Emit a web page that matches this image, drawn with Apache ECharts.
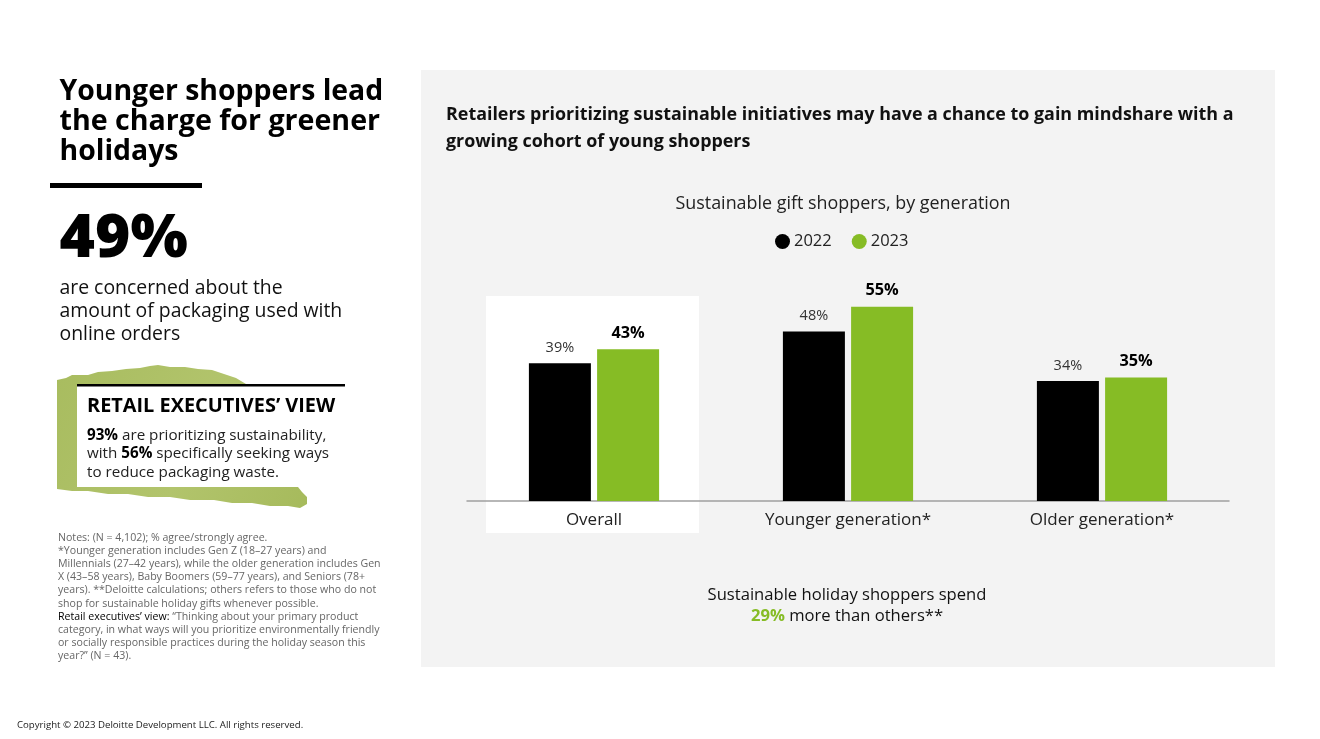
<!DOCTYPE html>
<html><head><meta charset="utf-8">
<style>html,body{margin:0;padding:0;background:#fff}#c{width:1320px;height:739px}</style>
<script src="https://cdn.jsdelivr.net/npm/echarts@6/dist/echarts.min.js"></script>
</head><body><div id="c"></div>
<script>
const categories = ['Overall', 'Younger generation*', 'Older generation*'];
const values2022 = [39, 48, 34];
const values2023 = [43, 55, 35];
const FF = '"Open Sans", "Noto Sans", sans-serif';
const chart = echarts.init(document.getElementById('c'), null, {renderer: 'canvas'});

function txt(x, y, text, size, weight, fill) {
  return {type: 'text', x, y, z: 5, silent: true,
    style: {text, fontFamily: FF, fontSize: size, fontWeight: weight, fill, verticalAlign: 'middle'}};
}
const graphics = [
  {type: 'rect', z: -5, silent: true, shape: {x: 421, y: 70, width: 854, height: 597}, style: {fill: '#f3f3f3'}},
  {type: 'rect', z: -4, silent: true, shape: {x: 486, y: 296, width: 213, height: 237}, style: {fill: '#ffffff'}},
  {type: 'rect', z: 3, silent: true, shape: {x: 50, y: 183, width: 152, height: 5}, style: {fill: '#000'}},
  {type: 'polygon', z: 1, silent: true, shape: {points: [[57,380],[66,378],[72,375],[88,375],[98,372],[112,371],[126,369],[140,368],[150,366],[158,365],[170,367],[185,367],[198,369],[212,370],[224,374],[236,378],[246,384],[340,384],[340,486],[298,487],[302,492],[307,497],[307,504],[300,508],[288,506],[270,506],[252,503],[232,503],[214,500],[190,500],[170,497],[148,497],[128,494],[108,494],[88,491],[72,491],[57,489]]},
    style: {fill: new echarts.graphic.LinearGradient(0,0,1,1,[{offset:0,color:'#a8bc5f'},{offset:.5,color:'#b2c46c'},{offset:1,color:'#a3b858'}])}},
  {type: 'rect', z: 2, silent: true, shape: {x: 77, y: 385, width: 268, height: 102}, style: {fill: '#fff'}},
  {type: 'rect', z: 3, silent: true, shape: {x: 77, y: 384, width: 268, height: 2.5}, style: {fill: '#000'}},
  txt(59.5, 92, 'Younger shoppers lead', 28.4, 700, '#000'),
  txt(59.5, 122, 'the charge for greener', 28.6, 700, '#000'),
  txt(59.5, 152, 'holidays', 28.4, 700, '#000'),
  txt(59.5, 240, '49%', 60.5, 800, '#000'),
  txt(59.5, 288, 'are concerned about the', 19.4, 400, '#111'),
  txt(59.5, 311, 'amount of packaging used with', 19.4, 400, '#111'),
  txt(59.5, 334, 'online orders', 19.4, 400, '#111'),
  txt(87, 406, 'RETAIL EXECUTIVES’ VIEW', 19.9, 700, '#000'),
  {type: 'text', x: 87, y: 426.5, z: 5, silent: true, style: {
    text: '{b|93%} are prioritizing sustainability,\nwith {b|56%} specifically seeking ways\nto reduce packaging waste.',
    fontFamily: FF, fontSize: 15.2, lineHeight: 18.3, fill: '#222',
    rich: {b: {fontFamily: FF, fontSize: 15.2, fontWeight: 700, fill: '#000', lineHeight: 18.3}}}},
  {type: 'text', x: 58, y: 531, z: 5, silent: true, style: {
    text: 'Notes: (N = 4,102); % agree/strongly agree.\n*Younger generation includes Gen Z (18–27 years) and\nMillennials (27–42 years), while the older generation includes Gen\nX (43–58 years), Baby Boomers (59–77 years), and Seniors (78+\nyears). **Deloitte calculations; others refers to those who do not\nshop for sustainable holiday gifts whenever possible.\n{k|Retail executives’ view:} “Thinking about your primary product\ncategory, in what ways will you prioritize environmentally friendly\nor socially responsible practices during the holiday season this\nyear?” (N = 43).',
    fontFamily: FF, fontSize: 10.6, lineHeight: 13.2, fill: '#666',
    rich: {k: {fontFamily: FF, fontSize: 10.6, fill: '#000', lineHeight: 13.2}}}},
  txt(17, 725.5, 'Copyright © 2023 Deloitte Development LLC. All rights reserved.', 9.63, 400, '#222'),
  txt(446, 115, 'Retailers prioritizing sustainable initiatives may have a chance to gain mindshare with a', 17.9, 700, '#111'),
  txt(446, 142, 'growing cohort of young shoppers', 17.9, 700, '#111'),
  {type: 'text', x: 847, y: 605.5, z: 5, silent: true, style: {
    text: 'Sustainable holiday shoppers spend\n{g|29%} more than others**',
    align: 'center', verticalAlign: 'middle', fontFamily: FF, fontSize: 16.6, lineHeight: 21, fill: '#111',
    rich: {g: {fontFamily: FF, fontSize: 16.6, fontWeight: 700, fill: '#86bc25', lineHeight: 21}}}}
];

chart.setOption({
  animation: false,
  backgroundColor: '#fff',
  textStyle: {fontFamily: FF},
  title: {text: 'Sustainable gift shoppers, by generation', left: 838, top: 190, textAlign: 'center',
    textStyle: {fontFamily: FF, fontSize: 17.9, fontWeight: 400, color: '#222'}},
  legend: {left: 770, top: 228, itemWidth: 15, itemHeight: 15, itemGap: 20, icon: 'circle',
    textStyle: {fontFamily: FF, fontSize: 16.5, color: '#222', padding: [0, 0, 0, -1]}},
  grid: {left: 467, top: 148, width: 762, height: 353},
  xAxis: {type: 'category', data: categories,
    axisLine: {lineStyle: {color: '#a0a0a0', width: 1.5}}, axisTick: {show: false},
    axisLabel: {fontFamily: FF, fontSize: 17, color: '#222', margin: 11}},
  yAxis: {type: 'value', min: 0, max: 100, show: false, splitLine: {show: false}},
  graphic: graphics,
  series: [
    {name: '2022', type: 'bar', data: values2022, barWidth: 62, barGap: '10%', itemStyle: {color: '#000'},
      label: {show: true, position: 'top', distance: 8, formatter: '{c}%', fontFamily: FF, fontSize: 14.5, color: '#333'}},
    {name: '2023', type: 'bar', data: values2023, barWidth: 62, itemStyle: {color: '#86bc25'},
      label: {show: true, position: 'top', distance: 8, formatter: '{c}%', fontFamily: FF, fontSize: 16.3, fontWeight: 700, color: '#000'}}
  ]
});
</script></body></html>
